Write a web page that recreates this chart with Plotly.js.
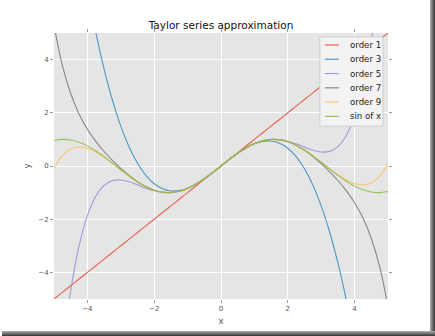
<!DOCTYPE html>
<html><head><meta charset="utf-8">
<script src="https://cdn.plot.ly/plotly-3.0.1.min.js"></script>
<style>
body{margin:0;background:#fff;}
#wrap{position:relative;width:435px;height:336px;overflow:hidden}
#chart{position:absolute;left:0;top:0;width:435px;height:336px}
.sr{position:absolute;left:430px;top:0px;width:5px;height:336px;background:linear-gradient(to right,#b0b0b0,#333)}
.sb{position:absolute;left:2px;top:331px;width:433px;height:5px;background:linear-gradient(to bottom,#b0b0b0,#333)}
</style></head>
<body>
<div id="wrap"><div id="chart"></div><div class="sr"></div><div class="sb"></div></div>
<script>
const xs = [-5,-4.75,-4.5,-4.25,-4,-3.75,-3.5,-3.25,-3,-2.75,-2.5,-2.25,-2,-1.75,-1.5,-1.25,-1,-0.75,-0.5,-0.25,0,0.25,0.5,0.75,1,1.25,1.5,1.75,2,2.25,2.5,2.75,3,3.25,3.5,3.75,4,4.25,4.5,4.75,5];
const order1 = [-5,-4.75,-4.5,-4.25,-4,-3.75,-3.5,-3.25,-3,-2.75,-2.5,-2.25,-2,-1.75,-1.5,-1.25,-1,-0.75,-0.5,-0.25,0,0.25,0.5,0.75,1,1.25,1.5,1.75,2,2.25,2.5,2.75,3,3.25,3.5,3.75,4,4.25,4.5,4.75,5];
const order3 = [15.83333,13.11198,10.6875,8.54427,6.66667,5.03906,3.64583,2.47135,1.5,0.71615,0.10417,-0.35156,-0.66667,-0.85677,-0.9375,-0.92448,-0.83333,-0.67969,-0.47917,-0.2474,0,0.2474,0.47917,0.67969,0.83333,0.92448,0.9375,0.85677,0.66667,0.35156,-0.10417,-0.71615,-1.5,-2.47135,-3.64583,-5.03906,-6.66667,-8.54427,-10.6875,-13.11198,-15.83333];
const order5 = [-10.20833,-7.03859,-4.68984,-3.01056,-1.86667,-1.14075,-0.73099,-0.55028,-0.525,-0.59449,-0.70964,-0.8321,-0.93333,-0.99355,-1.00078,-0.94991,-0.84167,-0.68167,-0.47943,-0.2474,0,0.2474,0.47943,0.68167,0.84167,0.94991,1.00078,0.99355,0.93333,0.8321,0.70964,0.59449,0.525,0.55028,0.73099,1.14075,1.86667,3.01056,4.68984,7.03859,10.20833];
const order7 = [5.29266,3.78625,2.72423,1.95868,1.38413,0.92839,0.54558,0.20963,-0.09107,-0.3585,-0.58853,-0.77418,-0.90794,-0.98357,-0.99739,-0.94896,-0.84147,-0.68164,-0.47943,-0.2474,0,0.2474,0.47943,0.68164,0.84147,0.94896,0.99739,0.98357,0.90794,0.77418,0.58853,0.3585,0.09107,-0.20963,-0.54558,-0.92839,-1.38413,-1.95868,-2.72423,-3.78625,-5.29266];
const order9 = [-0.08963,0.39409,0.63902,0.71206,0.66173,0.52426,0.32839,0.09815,-0.14531,-0.38328,-0.59905,-0.77826,-0.90935,-0.984,-0.9975,-0.94899,-0.84147,-0.68164,-0.47943,-0.2474,0,0.2474,0.47943,0.68164,0.84147,0.94899,0.9975,0.984,0.90935,0.77826,0.59905,0.38328,0.14531,-0.09815,-0.32839,-0.52426,-0.66173,-0.71206,-0.63902,-0.39409,0.08963];
const sinx = [0.95892,0.99929,0.97753,0.89499,0.7568,0.57156,0.35078,0.1082,-0.14112,-0.38166,-0.59847,-0.77807,-0.9093,-0.98399,-0.99749,-0.94898,-0.84147,-0.68164,-0.47943,-0.2474,0,0.2474,0.47943,0.68164,0.84147,0.94898,0.99749,0.98399,0.9093,0.77807,0.59847,0.38166,0.14112,-0.1082,-0.35078,-0.57156,-0.7568,-0.89499,-0.97753,-0.99929,-0.95892];
const seriesNames = ['order 1','order 3','order 5','order 7','order 9','sin of x'];
const seriesColors = ['#E24A33','#348ABD','#988ED5','#777777','#FBC15E','#8EBA42'];
const tickVals = [-4,-2,0,2,4];

const ys = [order1, order3, order5, order7, order9, sinx];
const traces = ys.map((y,i)=>({
  x: xs, y: y, type:'scatter', mode:'lines', name: seriesNames[i], opacity:0.85,
  line:{color:seriesColors[i], width:1.1, shape:'spline'}, showlegend:false, hoverinfo:'skip'
}));

// manual legend (matplotlib-like compact legend)
const legTop = 0.955, legStep = 0.0537;
const shapes = [{type:'rect', xref:'paper', yref:'paper', x0:0.796, x1:0.985, y0:0.650, y1:0.985,
  fillcolor:'#F3F3F3', line:{color:'#CFCFCF', width:1}, layer:'above'}];
const annotations = [];
seriesNames.forEach((n,i)=>{
  const yy = legTop - i*legStep;
  shapes.push({type:'line', xref:'paper', yref:'paper', x0:0.811, x1:0.853, y0:yy, y1:yy,
    line:{color:seriesColors[i], width:1.2}, layer:'above', opacity:0.85});
  annotations.push({xref:'paper', yref:'paper', x:0.880, y:yy, xanchor:'left', yanchor:'middle',
    text:n, showarrow:false, font:{family:'DejaVu Sans', size:8.6, color:'#222'}});
});

const axisCommon = {
  range:[-5,5], tickvals:tickVals, ticks:'outside', ticklen:3, tickwidth:1, tickcolor:'#9a9a9a',
  tickfont:{family:'DejaVu Sans', size:7, color:'#555'}, showgrid:true, gridcolor:'#FFFFFF', gridwidth:1,
  zeroline:false, showline:false, mirror:'ticks', fixedrange:true
};
const layout = {
  width:435, height:336,
  margin:{l:54, r:47, t:33, b:37},
  paper_bgcolor:'#FFFFFF', plot_bgcolor:'#E5E5E5',
  font:{family:'DejaVu Sans'},
  title:{text:'Taylor series approximation', font:{family:'DejaVu Sans', size:10.5, color:'#111'},
    x:0.5, xref:'paper', xanchor:'center', y:1-25.7/336, yref:'container', yanchor:'middle'},
  xaxis:Object.assign({}, axisCommon, {title:{text:'x', font:{family:'DejaVu Sans', size:8.6, color:'#555'}, standoff:5}}),
  yaxis:Object.assign({}, axisCommon, {title:{text:'y', font:{family:'DejaVu Sans', size:8.6, color:'#555'}, standoff:6}}),
  shapes:shapes, annotations:annotations, showlegend:false
};
Plotly.newPlot('chart', traces, layout, {displayModeBar:false, staticPlot:true});
</script>
</body></html>
